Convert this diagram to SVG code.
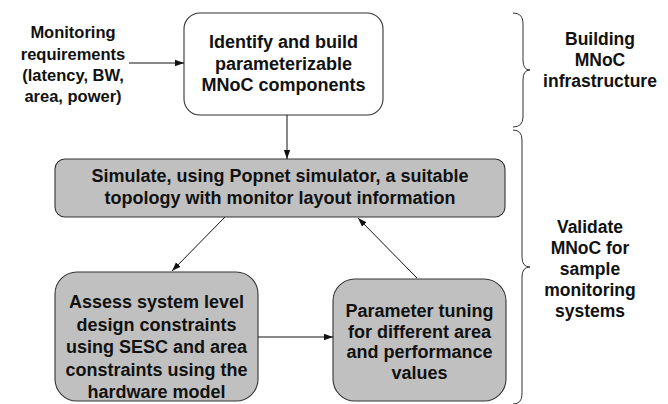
<svg xmlns="http://www.w3.org/2000/svg" width="668" height="404" viewBox="0 0 668 404">
<style>
text{font-family:"Liberation Sans",Arial,sans-serif;font-weight:bold;fill:#111;text-anchor:middle}
.box{font-size:18px}
.lbl{font-size:17.5px}
.side{font-size:16.5px}
.n{stroke:#333;stroke-width:1.1}
.g{fill:#c0c0c0}
.w{fill:#fff}
.c{stroke:#111;stroke-width:1;fill:none}
.br{stroke:#333;stroke-width:1;fill:none}
</style>
<defs>
<marker id="ah" viewBox="0 0 10 10" refX="10" refY="5" markerWidth="9" markerHeight="9" markerUnits="userSpaceOnUse" orient="auto">
<path d="M0,1.5 L10,5 L0,8.5 z" fill="#111"/>
</marker>
</defs>
<g id="input">
<text class="side" x="73" y="38">Monitoring</text>
<text class="side" x="73" y="59.5">requirements</text>
<text class="side" x="73" y="81">(latency, BW,</text>
<text class="side" x="73" y="102">area, power)</text>
</g>
<g id="identify">
<rect class="n w" x="184" y="13" width="199" height="102" rx="16"/>
<text class="box" x="283.5" y="48">Identify and build</text>
<text class="box" x="283.5" y="69.5">parameterizable</text>
<text class="box" x="283.5" y="91">MNoC components</text>
</g>
<g id="simulate">
<rect class="n g" x="55" y="159" width="450" height="58" rx="10"/>
<text class="box" x="280" y="182">Simulate, using Popnet simulator, a suitable</text>
<text class="box" x="280" y="203.5">topology with monitor layout information</text>
</g>
<g id="assess">
<rect class="n g" x="55" y="272" width="203" height="129" rx="22"/>
<text class="box" x="156.5" y="308">Assess system level</text>
<text class="box" x="156.5" y="330.5">design constraints</text>
<text class="box" x="156.5" y="353">using SESC and area</text>
<text class="box" x="156.5" y="375.5">constraints using the</text>
<text class="box" x="156.5" y="398">hardware model</text>
</g>
<g id="tuning">
<rect class="n g" x="333" y="279" width="173" height="122" rx="22"/>
<text class="box" x="419.5" y="317">Parameter tuning</text>
<text class="box" x="419.5" y="337.5">for different area</text>
<text class="box" x="419.5" y="358">and performance</text>
<text class="box" x="419.5" y="378.5">values</text>
</g>
<g id="build-label">
<path class="br" d="M513,13 Q523,13 523,23 L523,60 Q523,70 530,70 Q523,70 523,80 L523,117 Q523,127 513,127"/>
<text class="lbl" x="600" y="45">Building</text>
<text class="lbl" x="600" y="66">MNoC</text>
<text class="lbl" x="600" y="87">infrastructure</text>
</g>
<g id="validate-label">
<path class="br" d="M513,130 Q522,130 522,140 L522,257 Q522,267 530,267 Q522,267 522,277 L522,394 Q522,404 513,404"/>
<text class="lbl" x="590" y="233">Validate</text>
<text class="lbl" x="590" y="254">MNoC for</text>
<text class="lbl" x="590" y="275">sample</text>
<text class="lbl" x="590" y="296">monitoring</text>
<text class="lbl" x="590" y="317">systems</text>
</g>
<g id="connectors">
<line class="c" x1="129" y1="63" x2="184" y2="63" marker-end="url(#ah)"/>
<line class="c" x1="287" y1="115" x2="287" y2="159" marker-end="url(#ah)"/>
<line class="c" x1="225" y1="217" x2="172" y2="271" marker-end="url(#ah)"/>
<line class="c" x1="258" y1="337" x2="333" y2="337" marker-end="url(#ah)"/>
<line class="c" x1="417" y1="278" x2="358" y2="218" marker-end="url(#ah)"/>
</g>
</svg>
